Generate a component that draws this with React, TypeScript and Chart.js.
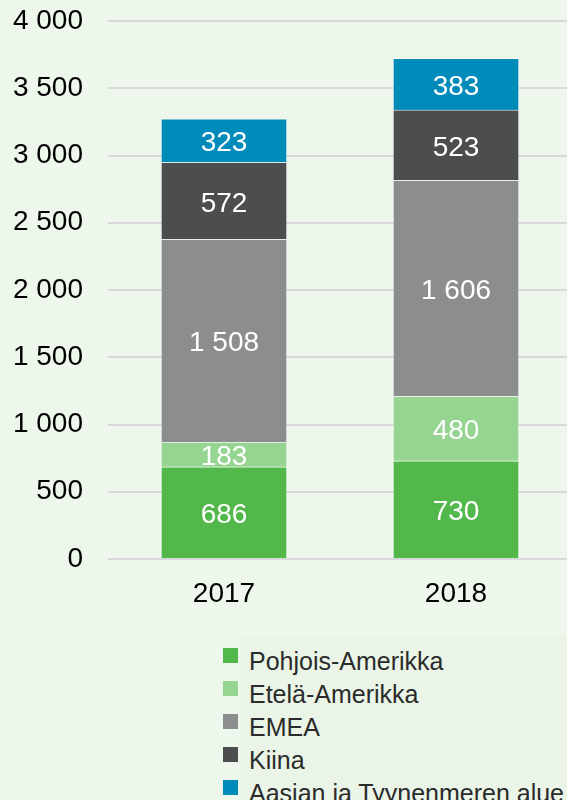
import React, { useEffect, useRef } from "react";
import { Chart, registerables } from "chart.js";
Chart.register(...registerables);

const categories = ["2017", "2018"];
const seriesNames = [
  "Pohjois-Amerikka",
  "Etelä-Amerikka",
  "EMEA",
  "Kiina",
  "Aasian ja Tyynenmeren alue",
];
const pohjoisAmerikka = [686, 730];
const etelaAmerikka = [183, 480];
const emea = [1508, 1606];
const kiina = [572, 523];
const aasia = [323, 383];
const seriesColors = ["#52b84b", "#96d492", "#8c8d8f", "#4c4d4f", "#008bbb"];
const yMin = 0;
const yMax = 4000;
const yStep = 500;

const FONT = "'Liberation Sans', Arial, sans-serif";
const fmt = (v: number) => String(v).replace(/\B(?=(\d{3})+(?!\d))/g, " ");

const valueLabels = {
  id: "valueLabels",
  afterDatasetsDraw(chart: any) {
    const ctx = chart.ctx;
    ctx.save();
    ctx.font = `28px ${FONT}`;
    ctx.fillStyle = "#ffffff";
    ctx.textAlign = "center";
    ctx.textBaseline = "middle";
    chart.data.datasets.forEach((ds: any, i: number) => {
      const meta = chart.getDatasetMeta(i);
      meta.data.forEach((el: any, j: number) => {
        const v = ds.data[j];
        ctx.fillText(fmt(v), el.x, (el.y + el.base) / 2 + 3);
      });
    });
    ctx.restore();
  },
};

export default function App() {
  const ref = useRef<HTMLCanvasElement>(null);
  useEffect(() => {
    if (!ref.current) return;
    const series = [pohjoisAmerikka, etelaAmerikka, emea, kiina, aasia];
    const chart = new Chart(ref.current, {
      type: "bar",
      data: {
        labels: categories,
        datasets: series.map((d, i) => ({
          label: seriesNames[i],
          data: d,
          backgroundColor: seriesColors[i],
          borderColor: "rgba(255,255,255,0.35)",
          borderWidth: 1,
          barThickness: 126,
        })),
      },
      options: {
        animation: false,
        responsive: false,
        maintainAspectRatio: false,
        layout: { padding: { top: 21, right: 8, left: 0, bottom: 0 } },
        plugins: { legend: { display: false }, tooltip: { enabled: false } },
        scales: {
          x: {
            stacked: true,
            grid: { display: false, drawTicks: false },
            border: { display: false },
            ticks: { color: "#000", font: { family: FONT, size: 28 }, padding: 18 },
            afterFit: (s: any) => {
              s.height = 61;
              s.paddingLeft = 0;
              s.paddingRight = 0;
            },
          },
          y: {
            stacked: true,
            min: yMin,
            max: yMax,
            grid: { color: "#d9d9d9", lineWidth: 2, drawTicks: false },
            border: { display: false },
            ticks: {
              stepSize: yStep,
              color: "#000",
              font: { family: FONT, size: 28 },
              padding: 25,
              callback: (v: any) => fmt(Number(v)),
            },
            afterFit: (s: any) => {
              s.width = 108;
              s.paddingTop = 0;
              s.paddingBottom = 0;
            },
          },
        },
      },
      plugins: [valueLabels],
    });
    return () => chart.destroy();
  }, []);

  return (
    <div
      style={{
        position: "absolute",
        left: 0,
        top: 0,
        width: 567,
        height: 800,
        overflow: "hidden",
        background: "#eef7ec",
        fontFamily: FONT,
      }}
    >
      <canvas
        ref={ref}
        width={580}
        height={620}
        style={{ position: "absolute", left: 0, top: 0, width: 580, height: 620 }}
      />
      <div
        style={{
          position: "absolute",
          left: 240,
          top: 637,
          width: 400,
          height: 200,
          background: "#eaf5e7",
        }}
      />
      <div style={{ position: "absolute", left: 223, top: 648 }}>
        {seriesNames.map((n, i) => (
          <div key={n} style={{ position: "relative", height: 33, whiteSpace: "nowrap" }}>
            <div
              style={{
                position: "absolute",
                left: 0,
                top: 0,
                width: 15,
                height: 15,
                background: seriesColors[i],
              }}
            />
            <div
              style={{
                position: "absolute",
                left: 26,
                top: -2,
                fontSize: 25,
                lineHeight: "30px",
                color: "#2b2b2b",
              }}
            >
              {n}
            </div>
          </div>
        ))}
      </div>
    </div>
  );
}
